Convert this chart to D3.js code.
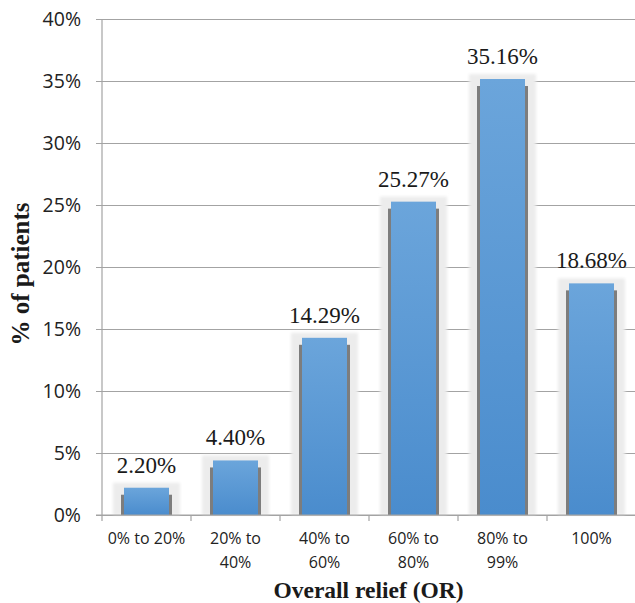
<!DOCTYPE html>
<html>
<head>
<meta charset="utf-8">
<script src="https://cdn.jsdelivr.net/npm/d3@7"></script>
<style>
  html, body { margin: 0; padding: 0; background: #fff; }
  svg { display: block; }
</style>
</head>
<body>
<svg id="chart" width="635" height="603"></svg>
<script>
// Share of patients by overall relief band
const categories = [["0% to 20%"], ["20% to", "40%"], ["40% to", "60%"], ["60% to", "80%"], ["80% to", "99%"], ["100%"]];
const values = [2.20, 4.40, 14.29, 25.27, 35.16, 18.68];
const yTicks = [0, 5, 10, 15, 20, 25, 30, 35, 40];

const svg = d3.select("#chart");
const margin = { left: 102, right: -1, top: 19, bottom: 88 };
const W = 635, H = 603;

const x = d3.scaleBand()
  .domain(d3.range(categories.length))
  .range([margin.left, W - margin.right])
  .paddingInner(0).paddingOuter(0);

const y = d3.scaleLinear().domain([0, 40]).range([H - margin.bottom, margin.top]);

const defs = svg.append("defs");
const grad = defs.append("linearGradient").attr("id", "barFill")
  .attr("x1", 0).attr("y1", 0).attr("x2", 0).attr("y2", 1);
grad.append("stop").attr("offset", "0%").attr("stop-color", "#6ba5db");
grad.append("stop").attr("offset", "100%").attr("stop-color", "#4a8ccd");

defs.append("filter").attr("id", "soft").attr("x", "-20%").attr("y", "-20%").attr("width", "140%").attr("height", "140%")
  .append("feGaussianBlur").attr("stdDeviation", 1.5);

// Horizontal gridlines with ticks extending left of the axis
const yAxis = d3.axisLeft(y).tickValues(yTicks).tickSize(-(W - margin.left + 6)).tickFormat(d => d + "%");
const gy = svg.append("g").attr("transform", `translate(${margin.left - 6},0)`).call(yAxis);
gy.select(".domain").remove();
gy.selectAll(".tick line").attr("stroke", "#a3a3a3").attr("stroke-width", 1.2);
gy.selectAll(".tick text")
  .attr("x", -15)
  .attr("font-family", "'Open Sans', sans-serif")
  .attr("font-size", 19.5)
  .attr("fill", "#222");

// Bars
const blueW = 45, edge = 3, halo = 8;
const bars = svg.append("g").selectAll("g").data(values).join("g");

bars.append("rect")
  .attr("x", (d, i) => x(i) + x.bandwidth() / 2 - blueW / 2 - edge - halo)
  .attr("y", d => y(d) - 5)
  .attr("width", blueW + 2 * (edge + halo))
  .attr("height", d => y(0) - y(d) + 5)
  .attr("fill", "#ececec")
  .attr("filter", "url(#soft)");

bars.append("rect")
  .attr("x", (d, i) => x(i) + x.bandwidth() / 2 - blueW / 2 - edge)
  .attr("y", d => y(d) + 7)
  .attr("width", blueW + 2 * edge)
  .attr("height", d => Math.max(0, y(0) - y(d) - 7))
  .attr("fill", "#7d7d7d");

bars.append("rect")
  .attr("x", (d, i) => x(i) + x.bandwidth() / 2 - blueW / 2)
  .attr("y", d => y(d))
  .attr("width", blueW)
  .attr("height", d => y(0) - y(d))
  .attr("fill", "url(#barFill)");

// Baseline gridline on top of bar halos
svg.append("line")
  .attr("x1", margin.left - 6).attr("x2", W)
  .attr("y1", y(0)).attr("y2", y(0))
  .attr("stroke", "#a3a3a3").attr("stroke-width", 1.2);

// Vertical axis line
svg.append("line")
  .attr("x1", margin.left).attr("x2", margin.left)
  .attr("y1", y(40)).attr("y2", y(0))
  .attr("stroke", "#a3a3a3").attr("stroke-width", 1.2);

// Category boundary ticks
svg.append("g").selectAll("line")
  .data(d3.range(categories.length + 1))
  .join("line")
  .attr("x1", i => margin.left + i * x.bandwidth())
  .attr("x2", i => margin.left + i * x.bandwidth())
  .attr("y1", y(0)).attr("y2", y(0) + 6)
  .attr("stroke", "#a3a3a3").attr("stroke-width", 1.2);

// Value labels
svg.append("g").selectAll("text").data(values).join("text")
  .attr("x", (d, i) => x(i) + x.bandwidth() / 2)
  .attr("y", d => y(d) - 15)
  .attr("text-anchor", "middle")
  .attr("font-family", "'Liberation Serif', 'Times New Roman', serif")
  .attr("font-size", 23)
  .attr("fill", "#1a1a1a")
  .text(d => d.toFixed(2) + "%");

// Category labels
const cat = svg.append("g").selectAll("text").data(categories).join("text")
  .attr("x", (d, i) => x(i) + x.bandwidth() / 2)
  .attr("y", 544)
  .attr("text-anchor", "middle")
  .attr("font-family", "'Open Sans', sans-serif")
  .attr("font-size", 16)
  .attr("fill", "#222");
cat.selectAll("tspan").data(d => d).join("tspan")
  .attr("x", function () { return d3.select(this.parentNode).attr("x"); })
  .attr("dy", (d, i) => i === 0 ? 0 : 24)
  .text(d => d);

// Axis titles
svg.append("text")
  .attr("x", (margin.left + W) / 2)
  .attr("y", 598)
  .attr("text-anchor", "middle")
  .attr("font-family", "'Liberation Serif', 'Times New Roman', serif")
  .attr("font-weight", "bold")
  .attr("font-size", 23.5)
  .attr("fill", "#1a1a1a")
  .text("Overall relief (OR)");

svg.append("text")
  .attr("transform", `translate(29,274) rotate(-90)`)
  .attr("text-anchor", "middle")
  .attr("font-family", "'Liberation Serif', 'Times New Roman', serif")
  .attr("font-weight", "bold")
  .attr("font-size", 25)
  .attr("fill", "#1a1a1a")
  .text("% of patients");
</script>
</body>
</html>
